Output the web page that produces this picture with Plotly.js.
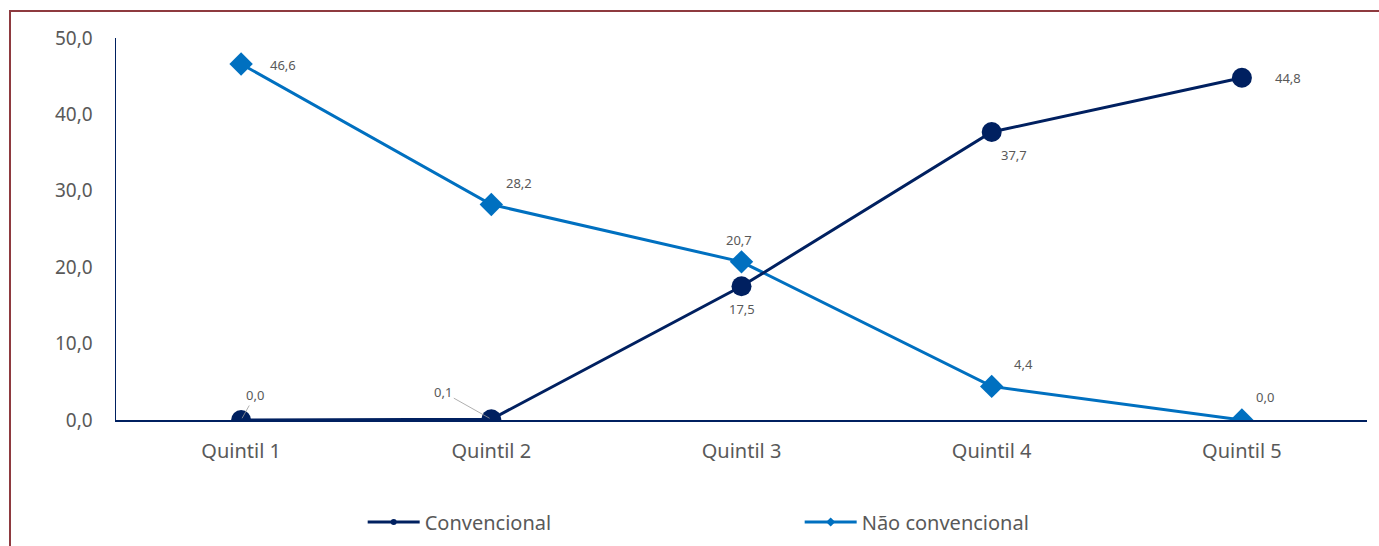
<!DOCTYPE html>
<html>
<head>
<meta charset="utf-8">
<script src="https://cdn.plot.ly/plotly-3.0.1.min.js"></script>
<style>
  html, body { margin: 0; padding: 0; background: #ffffff; }
  #wrap { position: relative; width: 1379px; height: 546px; }
  #chart { position: absolute; left: 0; top: 0; width: 1379px; height: 546px; }
  #frame { position: absolute; left: 9px; top: 10px; right: -2px; bottom: -2px;
           border-left: 2px solid #8e3a3f; border-top: 2px solid #8e3a3f;
           pointer-events: none; }
</style>
</head>
<body>
<div id="wrap">
  <div id="chart"></div>
  <div id="frame"></div>
</div>
<script>
// Income quintiles and share (%) by type
const quintis = ['Quintil 1', 'Quintil 2', 'Quintil 3', 'Quintil 4', 'Quintil 5'];
const convencional = [0.0, 0.1, 17.5, 37.7, 44.8];
const naoConvencional = [46.6, 28.2, 20.7, 4.4, 0.0];
const yTicks = [0, 10, 20, 30, 40, 50];

const NAVY = '#002060';
const BLUE = '#0070c0';
const GREY = '#595959';
const FONT = 'Noto Sans, Open Sans, sans-serif';

const fmt = v => v.toFixed(1).replace('.', ',');

// label placement (pixel offsets from each point)
const convOffsets = [[14, -25, true], [-48, -27, true], [0, 23, false], [22, 23, false], [46, 0, false]];
const naoOffsets = [[42, 1, false], [28, -22, false], [-3, -22, false], [32, -22, false], [23, -23, false]];

function labels(values, offsets) {
  return values.map((v, i) => {
    const [dx, dy, leader] = offsets[i];
    const a = {
      x: quintis[i], y: v, xref: 'x', yref: 'y',
      text: fmt(v),
      font: { family: FONT, size: 13, color: GREY },
      bgcolor: 'rgba(0,0,0,0)'
    };
    if (leader) {
      Object.assign(a, {
        showarrow: true, arrowhead: 0, arrowwidth: 0.8, arrowcolor: '#9a9a9a',
        ax: dx, ay: dy, standoff: 2, startstandoff: 0
      });
    } else {
      Object.assign(a, { showarrow: false, xshift: dx, yshift: -dy });
    }
    return a;
  });
}

const traces = [
  {
    x: quintis, y: naoConvencional, name: 'Não convencional',
    type: 'scatter', mode: 'lines+markers', showlegend: false,
    line: { color: BLUE, width: 3 },
    marker: { symbol: 'diamond', size: 18, color: BLUE }
  },
  {
    x: quintis, y: convencional, name: 'Convencional',
    type: 'scatter', mode: 'lines+markers', showlegend: false,
    line: { color: NAVY, width: 3 },
    marker: { symbol: 'circle', size: 20, color: NAVY }
  },
  // legend entries with compact markers
  {
    x: [null], y: [null], name: 'Convencional',
    type: 'scatter', mode: 'lines+markers',
    line: { color: NAVY, width: 3 },
    marker: { symbol: 'circle', size: 6, color: NAVY }
  },
  {
    x: [null], y: [null], name: 'Não convencional',
    type: 'scatter', mode: 'lines+markers',
    line: { color: BLUE, width: 3 },
    marker: { symbol: 'diamond', size: 7, color: BLUE }
  }
];

const layout = {
  width: 1379, height: 546,
  margin: { l: 116, r: 12, t: 38, b: 126 },
  paper_bgcolor: '#ffffff', plot_bgcolor: '#ffffff',
  separators: ',.',
  font: { family: FONT, color: GREY },
  xaxis: {
    type: 'category', categoryarray: quintis, range: [-0.5, 4.5],
    showgrid: false, zeroline: false,
    showline: true, linecolor: NAVY, linewidth: 1.5,
    ticks: '', ticklabelstandoff: 12,
    tickfont: { family: FONT, size: 20, color: GREY }
  },
  yaxis: {
    range: [0, 50], tickvals: yTicks, tickformat: '.1f',
    showgrid: false, zeroline: false,
    showline: true, linecolor: NAVY, linewidth: 1.5,
    ticks: '', ticklabelstandoff: 18,
    tickfont: { family: FONT, size: 19, color: GREY }
  },
  showlegend: true,
  legend: {
    orientation: 'h', xref: 'container', yref: 'container',
    x: 0.263, xanchor: 'left', y: 0.044, yanchor: 'middle',
    itemwidth: 52, entrywidth: 370, entrywidthmode: 'pixels',
    font: { family: FONT, size: 20, color: GREY },
    bgcolor: 'rgba(0,0,0,0)'
  },
  annotations: labels(convencional, convOffsets).concat(labels(naoConvencional, naoOffsets))
};

Plotly.newPlot('chart', traces, layout, { staticPlot: true, displayModeBar: false });
</script>
</body>
</html>
